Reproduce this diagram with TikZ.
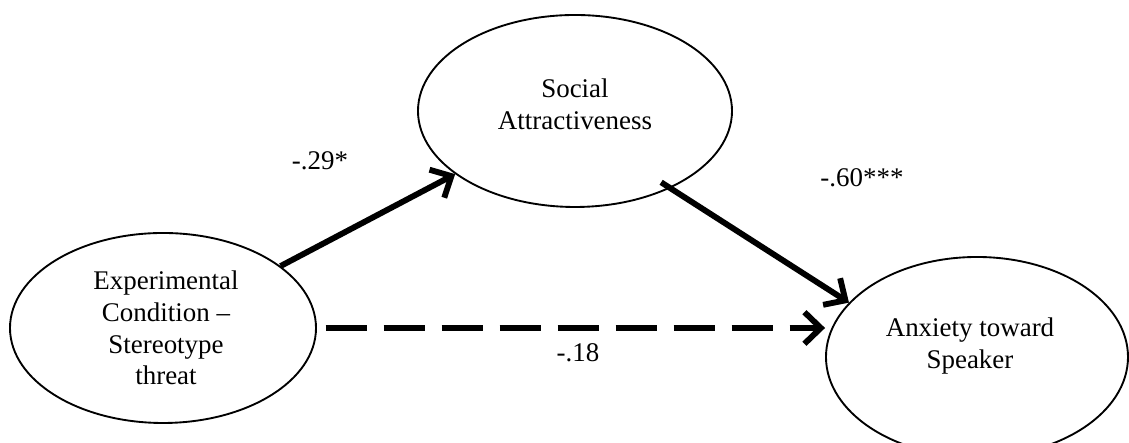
\documentclass[tikz,border=0pt]{standalone}
\usepackage{fontspec}
\setmainfont{Liberation Serif}
\usetikzlibrary{arrows.meta,shapes.geometric}
\tikzset{
  var/.style={draw=black, ellipse, line width=0.8pt, inner sep=0pt},
  vtext/.style={font=\fontsize{11.5}{13.5}\selectfont, align=center},
  coef/.style={font=\fontsize{11.5}{13.5}\selectfont},
  arr/.style={-{Straight Barb[length=7pt,width=13.5pt]}, line width=2.5pt},
  dasharr/.style={arr, dash pattern=on 0.615cm off 0.255cm}
}
\begin{document}
\begin{tikzpicture}[x=0.015cm,y=0.015cm]
  % page = 1129 x 443 px, 1px = 0.015cm
  \useasboundingbox (0,0) rectangle (1129,443);
  \node[var,minimum width=4.59cm,minimum height=2.85cm] (cond) at (163,115) {};
  \node[var,minimum width=4.71cm,minimum height=2.88cm] (attr) at (575,332) {};
  \node[var,minimum width=4.53cm,minimum height=3.0cm] (anx) at (977,86) {};
  \node[vtext] (condtxt) at (166,115) {Experimental\\Condition --\\Stereotype\\threat};
  \node[vtext] (attrtxt) at (575,339) {Social\\Attractiveness};
  \node[vtext] (anxtxt) at (970,97) {Anxiety toward\\Speaker};
  % paths
  \draw[arr] (cond) -- (attr);
  \draw[arr, shorten <=-0.165cm] (attr.-39) -- (anx.157);
  \draw[dasharr, shorten <=0.13cm] (cond.east) -- (cond.east -| anx.west);
  \node[coef] (a) at (320,282) {-.29*};
  \node[coef] (b) at (862,265) {-.60***};
  \node[coef] (c) at (578,90) {-.18};
\end{tikzpicture}
\end{document}
